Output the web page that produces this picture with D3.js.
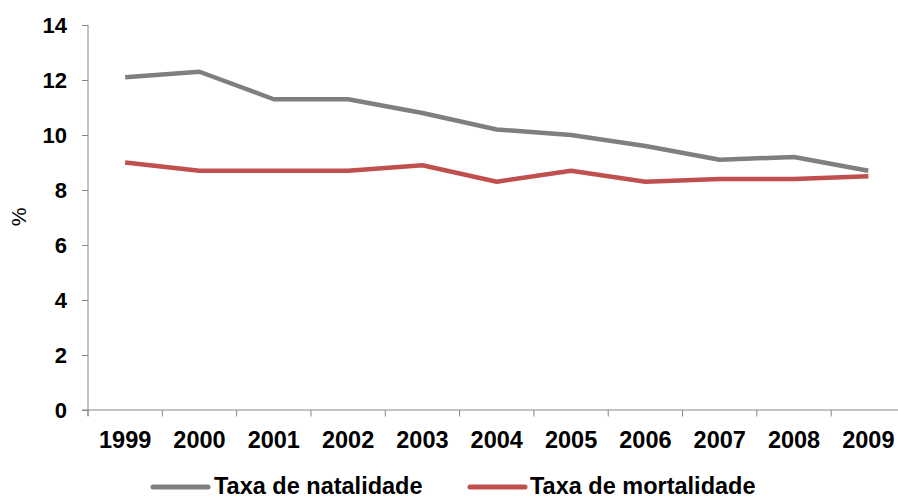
<!DOCTYPE html>
<html>
<head>
<meta charset="utf-8">
<script src="https://cdn.jsdelivr.net/npm/d3@7"></script>
<style>
  html, body { margin: 0; padding: 0; background: #fff; }
  svg { display: block; }
  text { font-family: "Liberation Sans", Arial, sans-serif; fill: #000; }
</style>
</head>
<body>
<svg id="chart" width="898" height="499"></svg>
<script>
// Taxas anuais (%), 1999–2009
const years = ["1999", "2000", "2001", "2002", "2003", "2004", "2005", "2006", "2007", "2008", "2009"];
const natalidade = [12.1, 12.3, 11.3, 11.3, 10.8, 10.2, 10.0, 9.6, 9.1, 9.2, 8.7];
const mortalidade = [9.0, 8.7, 8.7, 8.7, 8.9, 8.3, 8.7, 8.3, 8.4, 8.4, 8.5];
const yTicks = [0, 2, 4, 6, 8, 10, 12, 14];
const seriesNames = ["Taxa de natalidade", "Taxa de mortalidade"];
const seriesColors = ["#7F7F7F", "#C0504D"];

const svg = d3.select("#chart");
const axisColor = "#868686";

const x = d3.scaleBand().domain(years).range([88, 905.5]).paddingInner(0).paddingOuter(0);
const y = d3.scaleLinear().domain([0, 14]).range([410, 25]);
const cx = d => x(d) + x.bandwidth() / 2;

// Y axis
const yAxis = svg.append("g")
  .attr("transform", "translate(88,0)")
  .call(d3.axisLeft(y).tickValues(yTicks).tickSize(6).tickSizeOuter(0).tickPadding(15).tickFormat(d3.format("d")));
yAxis.select(".domain").attr("stroke", axisColor).attr("d", "M0,25V416");
yAxis.selectAll(".tick line").attr("stroke", axisColor);
yAxis.selectAll(".tick text")
  .style("font-size", "22px").style("font-weight", "bold")
  .attr("dy", "0.36em");

// X axis: labels centred in each category, ticks on category boundaries
const xAxis = svg.append("g")
  .attr("transform", "translate(0,410)")
  .call(d3.axisBottom(x).tickSize(0).tickSizeOuter(0).tickPadding(0));
xAxis.select(".domain").attr("stroke", axisColor).attr("d", `M82,0H${x.range()[1]}`);
xAxis.selectAll(".tick text")
  .style("font-size", "23.5px").style("font-weight", "bold")
  .attr("dy", null).attr("y", 37.5);

const bounds = years.map(d => x(d)).concat([x.range()[1]]);
svg.append("g").selectAll("line").data(bounds).join("line")
  .attr("x1", d => d).attr("x2", d => d)
  .attr("y1", 410).attr("y2", 416.5)
  .attr("stroke", axisColor).attr("stroke-width", 1);

// Y axis title
svg.append("text")
  .attr("transform", "translate(26,217) rotate(-90)")
  .attr("text-anchor", "middle")
  .style("font-size", "21px")
  .text("%");

// Lines
const line = d3.line().x((d, i) => cx(years[i])).y(d => y(d));
[natalidade, mortalidade].forEach((vals, k) => {
  svg.append("path")
    .datum(vals)
    .attr("d", line)
    .attr("fill", "none")
    .attr("stroke", seriesColors[k])
    .attr("stroke-width", 4.5)
    .attr("stroke-linejoin", "round");
});

// Legend
const legendItems = [
  { x1: 153, x2: 208, tx: 214 },
  { x1: 470, x2: 525, tx: 530 }
];
const lg = svg.append("g");
legendItems.forEach((it, k) => {
  lg.append("line")
    .attr("x1", it.x1).attr("x2", it.x2)
    .attr("y1", 487).attr("y2", 487)
    .attr("stroke", seriesColors[k]).attr("stroke-width", 5)
    .attr("stroke-linecap", "round");
  lg.append("text")
    .attr("x", it.tx).attr("y", 494)
    .style("font-size", "23.5px").style("font-weight", "bold")
    .text(seriesNames[k]);
});
</script>
</body>
</html>
